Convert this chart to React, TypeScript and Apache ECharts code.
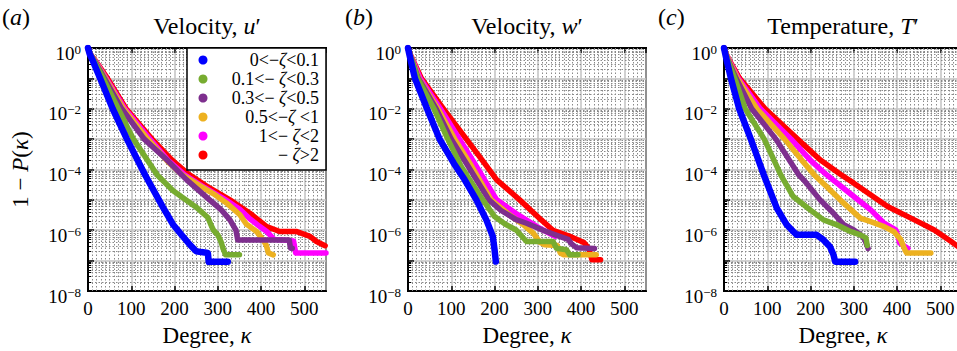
import React, { useEffect, useRef } from 'react';
import * as echarts from 'echarts';

const FONT = 'Liberation Serif';

const legendLabels = ['0<−{z|ζ}<0.1', '0.1<− {z|ζ}<0.3', '0.3<− {z|ζ}<0.5', '0.5<−{z|ζ} <1', '1<− {z|ζ}<2', '− {z|ζ}>2'];
const seriesNames = ['0<−ζ<0.1', '0.1<−ζ<0.3', '0.3<−ζ<0.5', '0.5<−ζ<1', '1<−ζ<2', '−ζ>2'];
const seriesColors = ['#0000ff', '#77ac30', '#7e2f8e', '#edb120', '#ff00ff', '#ff0000'];
const panelTitles = ['Velocity, {i|u}′', 'Velocity, {i|w}′', 'Temperature, {i|T}′'];
const panelTags = ['({i|a})', '({i|b})', '({i|c})'];
const xMin = 0;
const xMax = 550;
const xStep = 100;
const yMin = 1e-8;
const yMax = 1;

// Panel (a): velocity u'
const uBlue = [[0,1],[4,0.631],[12,0.355],[28,0.1],[57,0.01],[90,1e-3],[132,6.61e-5],[173,5.75e-6],[196,1.58e-6],[215,7.41e-7],[235,3.39e-7],[250,2.04e-7],[262,1.91e-7],[277,1.78e-7],[279,9.1e-8],[323,9.1e-8]];
const uGreen = [[0,1],[5,0.631],[15,0.355],[35,0.1],[70,0.01],[105,1e-3],[160,6.61e-5],[196,2.04e-5],[250,5.75e-6],[277,2.63e-6],[285,1.41e-6],[290,1e-6],[300,7.08e-7],[308,3.98e-7],[312,2.51e-7],[318,1.55e-7],[350,1.55e-7]];
const uPurple = [[0,1],[5,0.631],[16,0.355],[38,0.1],[78,0.01],[130,1e-3],[182,2.09e-4],[228,4.57e-5],[281,1e-5],[308,4.68e-6],[328,2.19e-6],[342,1e-6],[346,4.79e-7],[465,4.79e-7],[468,2.57e-7],[472,2.57e-7]];
const uOrange = [[0,1],[5,0.631],[17,0.355],[40,0.1],[82,0.01],[138,1e-3],[185,1.78e-4],[218,6.61e-5],[260,2.82e-5],[290,1.58e-5],[320,7.94e-6],[351,3.24e-6],[366,1.58e-6],[374,1.32e-6],[390,8.91e-7],[405,4.79e-7],[412,3.16e-7],[417,1.78e-7],[428,1.55e-7]];
const uMagenta = [[0,1],[5,0.631],[18,0.355],[42,0.1],[85,0.01],[143,1e-3],[185,2e-4],[224,6.61e-5],[270,2.51e-5],[318,1e-5],[350,5.01e-6],[372,2.51e-6],[397,1.32e-6],[413,9.12e-7],[430,5.01e-7],[475,4.47e-7],[480,1.78e-7],[550,1.78e-7]];
const uRed = [[0,1],[5,0.631],[19,0.355],[45,0.1],[88,0.01],[148,1e-3],[195,2e-4],[232,7.08e-5],[280,2.51e-5],[328,1e-5],[374,3.63e-6],[413,1.32e-6],[443,9.12e-7],[481,9.12e-7],[513,6.31e-7],[528,4.27e-7],[548,3.09e-7]];

// Panel (b): velocity w'
const wBlue = [[0,1],[3,0.631],[7,0.355],[16,0.1],[44,0.01],[73,1e-3],[106,1.58e-4],[131,4.57e-5],[158,1e-5],[181,2.19e-6],[196,6.31e-7],[200,2.29e-7],[203,9.33e-8]];
const wGreen = [[0,1],[4,0.631],[10,0.355],[22,0.1],[60,0.01],[92,1e-3],[123,1.26e-4],[173,1e-5],[200,2.82e-6],[225,1.58e-6],[250,1.02e-6],[274,4.27e-7],[335,4.27e-7],[343,2.57e-7],[366,2.29e-7],[374,1.55e-7],[393,1.55e-7]];
const wPurple = [[0,1],[4,0.631],[10,0.355],[24,0.1],[65,0.01],[100,1e-3],[135,1.58e-4],[187,1e-5],[215,4.47e-6],[250,2.24e-6],[274,1.7e-6],[312,1e-6],[350,6.31e-7],[370,5.01e-7],[378,3.55e-7],[390,2.63e-7],[431,2.51e-7]];
const wOrange = [[0,1],[4,0.631],[11,0.355],[25,0.1],[69,0.01],[108,1e-3],[143,1.58e-4],[192,1e-5],[235,3.16e-6],[265,1.58e-6],[290,7.94e-7],[305,3.98e-7],[316,3.31e-7],[345,3.16e-7],[352,1.78e-7],[360,1.55e-7],[435,1.55e-7]];
const wMagenta = [[0,1],[4,0.631],[12,0.355],[28,0.1],[75,0.01],[119,1e-3],[154,1.58e-4],[205,1e-5],[250,3.55e-6],[290,1.58e-6],[300,1.26e-6],[340,6.31e-7]];
const wRed = [[0,1],[5,0.631],[13,0.355],[31,0.1],[82,0.01],[135,1e-3],[177,1.58e-4],[205,4.57e-5],[258,1e-5],[308,2.19e-6],[335,1e-6],[374,6.31e-7],[406,3.98e-7],[418,2.51e-7],[425,1.07e-7],[445,1.07e-7]];

// Panel (c): temperature T'
const tBlue = [[0,1],[3,0.631],[7,0.355],[16,0.1],[35,0.01],[62,1e-3],[92,6.61e-5],[122,5.37e-6],[145,1.51e-6],[160,9.12e-7],[168,7.08e-7],[214,7.08e-7],[230,4.79e-7],[245,2.88e-7],[253,1.55e-7],[257,9.12e-8],[303,9.12e-8]];
const tGreen = [[0,1],[4,0.631],[10,0.355],[25,0.1],[49,0.01],[93,1e-3],[132,6.31e-5],[160,1.29e-5],[199,4.68e-6],[230,2.19e-6],[261,1.51e-6],[292,9.12e-7],[315,7.08e-7],[328,5.62e-7],[331,3.16e-7]];
const tPurple = [[0,1],[4,0.631],[11,0.355],[28,0.1],[64,0.01],[120,1e-3],[173,6.61e-5],[184,4.57e-5],[222,1e-5],[253,3.63e-6],[277,1.51e-6],[300,1.02e-6],[316,7.08e-7],[325,5.01e-7],[333,2.51e-7]];
const tOrange = [[0,1],[5,0.631],[12,0.355],[31,0.1],[76,0.01],[140,1e-3],[180,2e-4],[210,6.31e-5],[240,2.51e-5],[276,7.94e-6],[315,2.51e-6],[339,1.91e-6],[370,1.32e-6],[393,8.91e-7],[408,5.01e-7],[418,2.29e-7],[422,1.78e-7],[478,1.78e-7]];
const tMagenta = [[0,1],[5,0.631],[13,0.355],[33,0.1],[84,0.01],[155,1e-3],[200,2e-4],[231,7.94e-5],[300,1.29e-5],[339,4.68e-6],[370,1.7e-6],[397,1.02e-6],[402,6.31e-7],[406,3.8e-7],[420,2.82e-7],[425,2.51e-7]];
const tRed = [[0,1],[5,0.631],[14,0.355],[36,0.1],[95,0.01],[170,1e-3],[222,2.09e-4],[268,7.08e-5],[300,3.55e-5],[378,6.03e-6],[440,2.19e-6],[486,1.02e-6],[525,4.27e-7],[541,2.88e-7],[552,2.24e-7]];

const panels = [
  [uBlue, uGreen, uPurple, uOrange, uMagenta, uRed],
  [wBlue, wGreen, wPurple, wOrange, wMagenta, wRed],
  [tBlue, tGreen, tPurple, tOrange, tMagenta, tRed],
];

// layout
const GRID_LEFTS = [88, 408, 724];
const GRID_TOP = 48;
const GRID_W = 238;
const GRID_H = 243;
const TITLE_X = [207, 527, 843];
const TAG_X = [2, 345, 658];
const LEGEND_Y = [60, 79, 98, 117, 136, 155];

function App() {
  const ref = useRef<HTMLDivElement>(null);
  useEffect(() => {
    if (!ref.current) return;
    const chart = echarts.init(ref.current, null, { renderer: 'svg' });

    const minorXs: number[] = [];
    for (let x = xMin + 10; x < xMax; x += 10) if (x % xStep !== 0) minorXs.push(x);
    const minorYs: number[] = [];
    for (let e = -8; e < 0; e++) for (let m = 2; m <= 9; m++) minorYs.push(m * Math.pow(10, e));

    const italic = (size: number) => ({ fontFamily: FONT, fontSize: size, fontStyle: 'italic', color: '#000' });
    const upright = (size: number) => ({ fontFamily: FONT, fontSize: size, color: '#000' });

    const grid = GRID_LEFTS.map((l) => ({
      left: l, top: GRID_TOP, width: GRID_W, height: GRID_H,
      show: true, borderColor: '#000', borderWidth: 2, backgroundColor: 'transparent',
      containLabel: false, outerBoundsMode: 'none',
    }));

    const xAxis: any[] = [];
    const yAxis: any[] = [];
    GRID_LEFTS.forEach((_, i) => {
      xAxis.push({
        type: 'value', gridIndex: i, min: xMin, max: xMax, interval: xStep, position: 'bottom',
        axisLine: { show: true, onZero: false, lineStyle: { color: '#000', width: 2 } },
        axisTick: { show: true, inside: true, length: 5, lineStyle: { color: '#000', width: 1.5 } },
        axisLabel: { show: true, showMaxLabel: false, margin: 8, fontFamily: FONT, fontSize: 19, color: '#000' },
        splitLine: { show: true, lineStyle: { color: '#c2c2c2', width: 1.5 } },
        name: 'Degree, {i|κ}', nameLocation: 'middle', nameGap: 33,
        nameTextStyle: { ...upright(23), rich: { i: italic(23) } },
      });
      xAxis.push({
        type: 'value', gridIndex: i, min: xMin, max: xMax, interval: xStep, position: 'top',
        axisLine: { show: true, onZero: false, lineStyle: { color: '#000', width: 2 } },
        axisTick: { show: true, inside: true, length: 5, lineStyle: { color: '#000', width: 1.5 } },
        axisLabel: { show: false }, splitLine: { show: false },
      });
      yAxis.push({
        type: 'log', logBase: 10, gridIndex: i, min: yMin, max: yMax, splitNumber: 8,
        axisLine: { show: true, onZero: false, lineStyle: { color: '#000', width: 2 } },
        axisTick: { show: true, inside: true, length: 6, lineStyle: { color: '#000', width: 1.5 } },
        axisLabel: {
          show: true, margin: 7, padding: [9, 0, 0, 0], fontFamily: FONT, fontSize: 19, color: '#000',
          formatter: (v: number) => {
            const e = Math.round(Math.log10(v));
            if (e % 2 !== 0) return '';
            return `{b|10}{s|${e === 0 ? '0' : '−' + -e}}`;
          },
          rich: {
            b: { ...upright(19), lineHeight: 20, verticalAlign: 'bottom' },
            s: { ...upright(13), lineHeight: 12, verticalAlign: 'top' },
          },
        },
        splitLine: { show: true, lineStyle: { color: '#c2c2c2', width: 1.5 } },
        ...(i === 0
          ? {
              name: '1 − {i|P}({i|κ})', nameLocation: 'middle', nameGap: 56, nameRotate: 90,
              nameTextStyle: { ...upright(23), rich: { i: italic(23) } },
            }
          : {}),
      });
    });

    const series: any[] = [];
    const drawOrder = [5, 4, 3, 2, 1, 0];
    panels.forEach((pdata, i) => {
      series.push({
        type: 'lines', coordinateSystem: 'cartesian2d', xAxisIndex: 2 * i, yAxisIndex: i,
        silent: true, z: 1, animation: false,
        lineStyle: { color: '#8a8a8a', width: 1, type: [1.5, 2], opacity: 1 },
        data: [
          ...minorXs.map((x) => ({ coords: [[x, yMin], [x, yMax]] })),
          ...minorYs.map((y) => ({ coords: [[xMin, y], [xMax, y]] })),
        ],
      });
      series.push({
        type: 'lines', coordinateSystem: 'cartesian2d', xAxisIndex: 2 * i, yAxisIndex: i,
        silent: true, z: 1, animation: false,
        lineStyle: { color: '#000', width: 1.2, opacity: 1 },
        data: minorYs.map((y) => ({ coords: [[xMin, y], [xMin + 7, y]] })),
      });
      drawOrder.forEach((j) => {
        series.push({
          type: 'line', name: seriesNames[j], xAxisIndex: 2 * i, yAxisIndex: i,
          data: pdata[j], symbol: 'none', showSymbol: false, smooth: false, clip: true,
          lineStyle: { color: seriesColors[j], width: j === 0 ? 6.5 : 5.5, cap: 'round', join: 'round' },
          itemStyle: { color: seriesColors[j] },
          z: 3, animation: false, silent: true,
        });
      });
    });

    const graphic: any[] = [];
    panelTitles.forEach((t, i) => {
      graphic.push({
        type: 'text', x: TITLE_X[i], y: 26, z: 50,
        style: {
          text: t, fill: '#000', fontFamily: FONT, fontSize: 24,
          textAlign: 'center', textVerticalAlign: 'middle',
          rich: { i: { fontFamily: FONT, fontSize: 24, fontStyle: 'italic', fill: '#000' } },
        },
      });
      graphic.push({
        type: 'text', x: TAG_X[i], y: 17, z: 50,
        style: {
          text: panelTags[i], fill: '#000', fontFamily: FONT, fontSize: 24,
          textAlign: 'left', textVerticalAlign: 'middle',
          rich: { i: { fontFamily: FONT, fontSize: 24, fontStyle: 'italic', fill: '#000' } },
        },
      });
    });
    graphic.push({
      type: 'rect', z: 100,
      shape: { x: 187, y: 48, width: 139, height: 122 },
      style: { fill: '#fff', stroke: '#000', lineWidth: 1.5 },
    });
    legendLabels.forEach((lab, j) => {
      graphic.push({
        type: 'circle', z: 101,
        shape: { cx: 203, cy: LEGEND_Y[j], r: 4.5 },
        style: { fill: seriesColors[j] },
      });
      graphic.push({
        type: 'text', x: 319, y: LEGEND_Y[j], z: 101,
        style: {
          text: lab, fill: '#000', fontFamily: FONT, fontSize: 18, lineHeight: 16,
          textAlign: 'right', textVerticalAlign: 'middle',
          rich: { z: { fontFamily: FONT, fontSize: 18, fontStyle: 'italic', fill: '#000', lineHeight: 16 } },
        },
      });
    });

    chart.setOption({
      animation: false,
      backgroundColor: '#fff',
      grid, xAxis, yAxis, series, graphic,
    });
    return () => chart.dispose();
  }, []);
  return (
    <div
      ref={ref}
      style={{ position: 'fixed', left: 0, top: 0, width: 957, height: 351, background: '#fff' }}
    />
  );
}

export default App;
